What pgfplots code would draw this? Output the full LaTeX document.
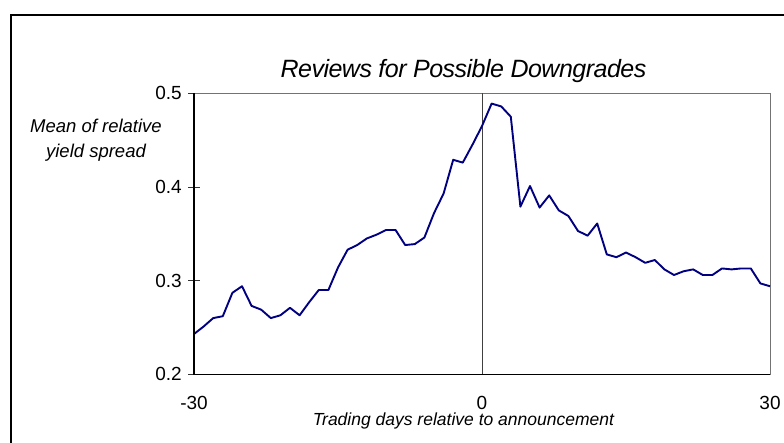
\documentclass[border=0pt]{standalone}
\usepackage{pgfplots}
\pgfplotsset{compat=1.18}
\usepackage{fontspec}
\setmainfont{Liberation Sans}
\definecolor{navyline}{RGB}{0,0,128}
\pgfplotstableread{
x y
-30 0.243
-29 0.251
-28 0.260
-27 0.262
-26 0.287
-25 0.294
-24 0.273
-23 0.269
-22 0.260
-21 0.263
-20 0.271
-19 0.263
-18 0.277
-17 0.290
-16 0.290
-15 0.314
-14 0.333
-13 0.338
-12 0.345
-11 0.349
-10 0.354
-9 0.354
-8 0.338
-7 0.339
-6 0.346
-5 0.372
-4 0.393
-3 0.429
-2 0.426
-1 0.445
0 0.465
1 0.489
2 0.486
3 0.475
4 0.379
5 0.401
6 0.378
7 0.391
8 0.375
9 0.369
10 0.353
11 0.348
12 0.361
13 0.328
14 0.325
15 0.330
16 0.325
17 0.319
18 0.322
19 0.312
20 0.306
21 0.310
22 0.312
23 0.306
24 0.306
25 0.313
26 0.312
27 0.313
28 0.313
29 0.297
30 0.294
}\spread
\begin{document}
\begin{tikzpicture}[x=1pt,y=1pt]
\path[use as bounding box] (0,0) rectangle (784,443);
\clip (0,0) rectangle (784,443);
\fill[white] (0,0) rectangle (784,443);
\draw[line width=2pt] (11,-10) -- (11,428) -- (800,428);
\begin{axis}[
  at={(194pt,68.7pt)}, anchor=south west,
  scale only axis, width=576pt, height=281pt,
  xmin=-30, xmax=30, ymin=0.2, ymax=0.5,
  xtick={-30,0,30}, xticklabels={-30,0,30},
  ytick={0.2,0.3,0.4,0.5}, yticklabels={0.2,0.3,0.4,0.5},
  ytick pos=left, xtick pos=bottom,
  axis line style={draw=black!55, line width=0.8pt},
  major tick length=12pt, tick align=center,
  ytick style={draw=black!80, line width=0.8pt},
  xtick style={draw=none},
  tick label style={font=\fontsize{19}{21}\selectfont, inner sep=0pt},
  yticklabel style={anchor=east, xshift=-6pt},
  xticklabel style={anchor=north, yshift=-15.5pt},
  clip=false,
]
\addplot[black!75, line width=0.8pt] coordinates {(0,0.2) (0,0.5)};
\addplot[navyline, line width=1.9pt, line join=round] table[x=x, y=y] {\spread};
\draw[black, line width=1.2pt] (rel axis cs:0,1) -- (rel axis cs:0,0) -- (rel axis cs:1,0);
\end{axis}
\node[anchor=base, inner sep=0pt, font=\fontsize{25}{28}\selectfont\itshape\addfontfeature{LetterSpace=-2}] at (463.5,365.7) {Reviews for Possible Downgrades};
\node[anchor=base, inner sep=0pt, font=\fontsize{18.5}{20}\selectfont\itshape] at (96,310.3) {Mean of relative};
\node[anchor=base, inner sep=0pt, font=\fontsize{18.5}{20}\selectfont\itshape] at (96,285.7) {yield spread};
\node[anchor=base, inner sep=0pt, font=\fontsize{17.5}{20}\selectfont\itshape] at (463.4,17.5) {Trading days relative to announcement};
\end{tikzpicture}
\end{document}
